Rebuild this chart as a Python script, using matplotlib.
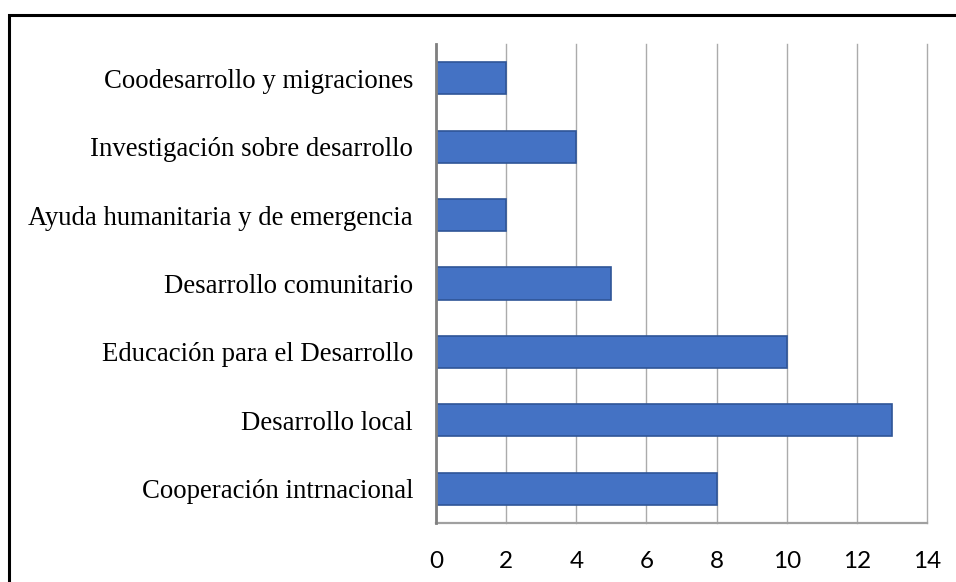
import matplotlib
matplotlib.use("Agg")
import matplotlib.pyplot as plt
from matplotlib.patches import Rectangle

categories = ["Cooperación intrnacional", "Desarrollo local", "Educación para el Desarrollo",
              "Desarrollo comunitario", "Ayuda humanitaria y de emergencia",
              "Investigación sobre desarrollo", "Coodesarrollo y migraciones"]
values = [8, 13, 10, 5, 2, 4, 2]
xticks = [0, 2, 4, 6, 8, 10, 12, 14]

W, H = 956, 582
fig = plt.figure(figsize=(W / 100, H / 100), dpi=100)
# axes: x 436..927, y 44..523 (pixels from top)
ax = fig.add_axes([436 / W, 1 - 523 / H, (927 - 436) / W, (523 - 44) / H])

y = list(range(len(categories)))
ax.barh(y, values, height=0.47, color="#4472C4", edgecolor="#2F5597", linewidth=1.2, zorder=3)
ax.set_xlim(0, 14)
ax.set_ylim(-0.5, len(categories) - 0.5)
ax.set_xticks(xticks)
ax.set_xticklabels([str(t) for t in xticks], fontfamily="Lato", fontsize=17.5)
ax.set_yticks(y)
ax.set_yticklabels(categories, fontfamily="Liberation Serif", fontsize=19.3)
ax.tick_params(axis="x", length=0, pad=20)
ax.tick_params(axis="y", length=0, pad=16.5)
ax.xaxis.grid(True, color="#ABABAB", linewidth=1.0, zorder=0)
ax.set_axisbelow(True)
for gl in ax.get_xgridlines():
    gl.set_clip_on(False)
for s in ["top", "right"]:
    ax.spines[s].set_visible(False)
ax.spines["left"].set_color("#808080")
ax.spines["left"].set_linewidth(2)
ax.spines["left"].set_zorder(4)
ax.spines["bottom"].set_color("#A0A0A0")
ax.spines["bottom"].set_linewidth(1.6)

# outer frame (left and top edges visible, others off-image)
fig.add_artist(Rectangle((9 / W, -0.1), 1.2, 1 - 15 / H + 0.1, transform=fig.transFigure,
                         fill=False, edgecolor="black", linewidth=2.2))

fig.savefig("out.png", dpi=100)
